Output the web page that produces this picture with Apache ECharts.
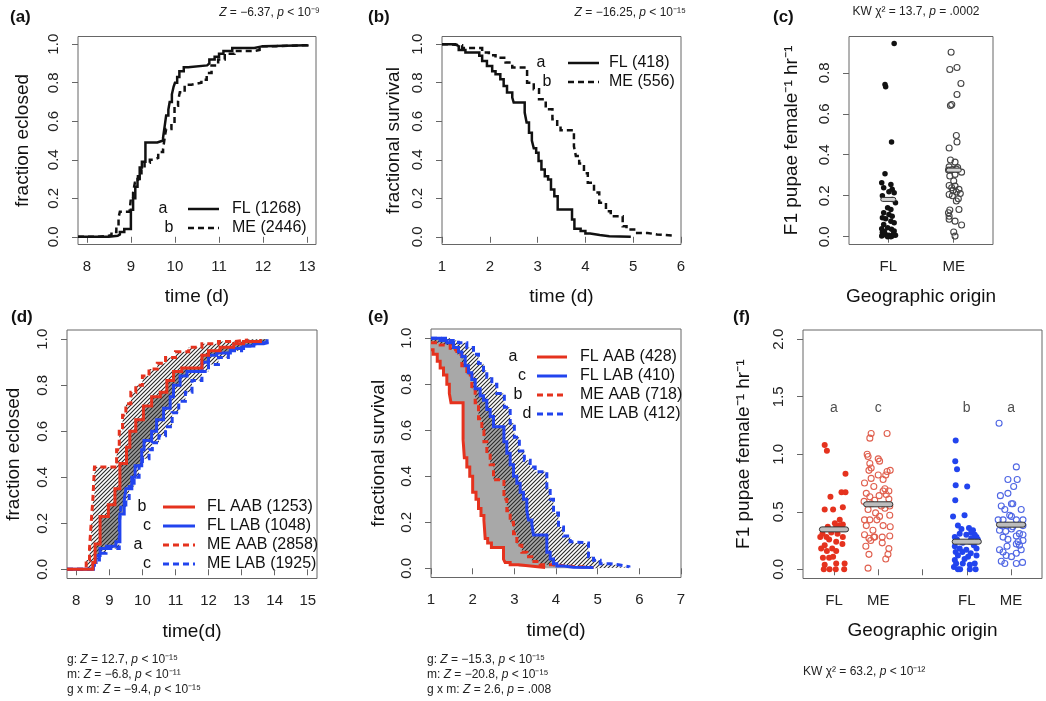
<!DOCTYPE html>
<html><head><meta charset="utf-8">
<script src="https://cdn.jsdelivr.net/npm/echarts@6/dist/echarts.min.js"></script>
<style>html,body{margin:0;padding:0;background:#fff}#c{width:1046px;height:701px}</style>
</head><body><div id="c"></div>
<script>
// ---------------- DATA ----------------
// (a) fraction eclosed vs time (d), step points [time, fraction after time]
const eclosionFL = [[7.8,0],[8.5,0.005],[8.7,0.012],[8.75,0.025],[8.85,0.04],[9.0,0.14],[9.05,0.2],[9.1,0.26],[9.15,0.3],[9.2,0.36],[9.25,0.39],[9.33,0.49],[9.6,0.5],[9.73,0.515],[9.77,0.58],[9.8,0.63],[9.85,0.66],[9.88,0.70],[9.93,0.74],[9.97,0.78],[10.0,0.80],[10.05,0.83],[10.1,0.86],[10.2,0.88],[10.3,0.89],[10.73,0.9],[10.78,0.92],[10.9,0.935],[11.0,0.95],[11.1,0.965],[11.3,0.98],[11.8,0.99],[12.0,0.995],[13.0,1.0]];
const eclosionME = [[7.8,0],[8.25,0.005],[8.48,0.01],[8.56,0.025],[8.67,0.05],[8.72,0.1],[8.75,0.13],[8.97,0.14],[9.0,0.2],[9.05,0.23],[9.09,0.28],[9.16,0.315],[9.24,0.35],[9.31,0.385],[9.43,0.40],[9.5,0.41],[9.62,0.44],[9.73,0.455],[9.77,0.52],[9.8,0.56],[9.92,0.59],[9.99,0.68],[10.07,0.705],[10.11,0.75],[10.22,0.79],[10.37,0.80],[10.6,0.815],[10.72,0.85],[10.83,0.89],[10.98,0.92],[11.13,0.95],[11.35,0.965],[11.81,0.97],[11.92,0.99],[12.3,0.995],[13.0,1.0]];
// (b) fractional survival
const survivalFL = [[1,1],[1.28,0.99],[1.35,0.97],[1.49,0.957],[1.78,0.94],[1.84,0.913],[1.94,0.887],[2.05,0.86],[2.12,0.844],[2.22,0.818],[2.29,0.783],[2.36,0.749],[2.47,0.723],[2.5,0.697],[2.73,0.645],[2.77,0.593],[2.82,0.54],[2.88,0.50],[2.92,0.46],[2.97,0.437],[3.02,0.393],[3.08,0.35],[3.15,0.315],[3.22,0.298],[3.28,0.246],[3.35,0.211],[3.42,0.142],[3.72,0.09],[3.77,0.042],[3.9,0.03],[4.0,0.017],[4.1,0.009],[4.3,0.003],[4.5,0],[4.95,0]];
const survivalME = [[1,1],[1.1,0.995],[1.42,0.98],[1.84,0.957],[1.98,0.943],[2.12,0.93],[2.33,0.905],[2.47,0.879],[2.78,0.80],[2.92,0.766],[3.03,0.714],[3.17,0.662],[3.31,0.61],[3.41,0.575],[3.48,0.553],[3.76,0.47],[3.8,0.42],[3.87,0.38],[3.97,0.33],[4.05,0.28],[4.18,0.23],[4.29,0.177],[4.43,0.133],[4.53,0.107],[4.78,0.055],[4.86,0.038],[5.02,0.02],[5.3,0.012],[5.5,0.006],[5.83,0.003]];
// (c) F1 pupae per female per hour: [jittered group position, value]
const pupaeFL = [[1.09,0.943],[0.95,0.743],[0.96,0.732],[1.05,0.462],[0.95,0.307],[0.90,0.263],[1.04,0.255],[0.93,0.239],[1.06,0.231],[1.01,0.22],[1.09,0.215],[0.91,0.20],[1.06,0.182],[1.11,0.166],[0.99,0.141],[1.04,0.133],[0.93,0.117],[1.01,0.109],[1.06,0.10],[0.91,0.093],[0.96,0.088],[1.04,0.076],[1.09,0.068],[0.93,0.06],[0.90,0.039],[0.99,0.044],[1.05,0.036],[1.09,0.028],[0.91,0.02],[0.96,0.011],[1.01,0.007],[1.06,0.003],[1.11,0.007],[0.90,0.003],[0.93,0.01],[0.99,0.0],[1.04,0.0],[1.08,0.015],[0.94,0.025]];
const pupaeME = [[1.96,0.90],[1.94,0.816],[2.05,0.826],[2.11,0.748],[2.05,0.694],[1.95,0.64],[1.97,0.645],[2.04,0.494],[2.05,0.462],[1.93,0.433],[1.95,0.374],[2.02,0.364],[1.93,0.341],[2.06,0.337],[1.92,0.325],[1.98,0.328],[2.04,0.33],[2.12,0.315],[2.02,0.304],[1.94,0.296],[2.00,0.272],[1.93,0.25],[2.02,0.247],[1.97,0.239],[2.08,0.231],[1.99,0.226],[2.04,0.218],[1.93,0.206],[2.10,0.211],[1.98,0.20],[2.07,0.185],[2.04,0.174],[2.08,0.133],[1.94,0.13],[1.92,0.117],[1.93,0.10],[1.93,0.085],[2.02,0.076],[2.12,0.057],[2.00,0.023],[2.02,0.003]];
const pupaeMeanC = [[1,0.182],[2,0.325]];
const originLabels = ['FL','ME'];
// (d) fraction eclosed by group
const eclFLAAB = [[7.72,0],[8.5,0.03],[8.57,0.11],[8.72,0.23],[8.97,0.28],[9.17,0.35],[9.32,0.46],[9.52,0.53],[9.62,0.60],[9.8,0.65],[10.03,0.71],[10.28,0.75],[10.54,0.77],[10.74,0.82],[10.94,0.86],[11.19,0.875],[11.8,0.93],[12.0,0.95],[12.35,0.965],[12.76,0.98],[13.06,0.99],[13.57,1.0]];
const eclFLLAB = [[7.72,0],[8.52,0.03],[8.6,0.06],[8.72,0.09],[8.92,0.10],[9.2,0.12],[9.32,0.24],[9.45,0.3],[9.5,0.35],[9.68,0.40],[9.78,0.45],[9.98,0.52],[10.05,0.56],[10.28,0.60],[10.43,0.65],[10.64,0.70],[10.84,0.75],[10.94,0.80],[11.14,0.84],[11.35,0.86],[11.8,0.90],[12.0,0.93],[12.25,0.94],[12.66,0.96],[13.06,0.97],[13.37,0.98],[13.67,0.985],[13.77,1.0]];
const eclMEAAB = [[7.72,0],[8.2,0.005],[8.3,0.04],[8.4,0.09],[8.45,0.2],[8.5,0.3],[8.55,0.445],[9.22,0.52],[9.3,0.6],[9.4,0.67],[9.5,0.72],[9.65,0.77],[9.8,0.80],[10.0,0.84],[10.2,0.87],[10.45,0.895],[10.7,0.92],[11.0,0.945],[11.4,0.965],[11.8,0.98],[12.3,0.99],[12.8,0.997],[13.2,1.0]];
const eclMELAB = [[7.72,0],[8.45,0.01],[8.55,0.04],[8.7,0.07],[8.9,0.09],[9.3,0.2],[9.35,0.27],[9.5,0.3],[9.6,0.36],[9.75,0.40],[9.9,0.45],[10.0,0.48],[10.2,0.52],[10.3,0.55],[10.5,0.58],[10.7,0.62],[10.9,0.68],[11.1,0.73],[11.3,0.77],[11.5,0.82],[11.8,0.86],[12.0,0.89],[12.3,0.92],[12.6,0.95],[13.0,0.97],[13.4,0.985],[13.77,1.0]];
// (e) fractional survival by group
const survFLAAB = [[1,0.95],[1.05,0.93],[1.15,0.90],[1.22,0.87],[1.3,0.84],[1.38,0.80],[1.44,0.76],[1.48,0.72],[1.77,0.56],[1.8,0.48],[1.86,0.44],[1.93,0.40],[2.0,0.33],[2.08,0.30],[2.14,0.26],[2.2,0.23],[2.27,0.21],[2.3,0.13],[2.36,0.11],[2.45,0.09],[2.74,0.04],[2.78,0.025],[2.9,0.015],[3.1,0.008],[3.5,0.003],[3.74,0]];
const survFLLAB = [[1,1.0],[1.22,0.99],[1.38,0.98],[1.54,0.96],[1.66,0.94],[1.74,0.92],[1.82,0.88],[1.9,0.85],[1.98,0.82],[2.06,0.78],[2.18,0.75],[2.26,0.73],[2.34,0.69],[2.42,0.66],[2.5,0.615],[2.75,0.55],[2.82,0.5],[2.9,0.45],[2.98,0.4],[3.06,0.37],[3.14,0.33],[3.22,0.3],[3.3,0.25],[3.34,0.21],[3.42,0.19],[3.46,0.145],[3.78,0.07],[3.86,0.04],[3.94,0.02],[4.02,0.01],[4.18,0.005],[4.42,0.003],[4.9,0]];
const survMEAAB = [[1,0.98],[1.22,0.97],[1.46,0.95],[1.62,0.93],[1.74,0.88],[1.86,0.84],[1.98,0.78],[2.06,0.72],[2.14,0.65],[2.22,0.60],[2.27,0.55],[2.34,0.5],[2.42,0.45],[2.5,0.385],[2.75,0.3],[2.82,0.25],[2.9,0.2],[2.98,0.15],[3.06,0.1],[3.18,0.07],[3.3,0.05],[3.42,0.03],[3.62,0.015],[3.94,0.008],[4.42,0.003],[4.9,0]];
const survMELAB = [[1,1.0],[1.46,0.99],[1.66,0.98],[1.86,0.96],[2.02,0.93],[2.14,0.89],[2.26,0.86],[2.34,0.83],[2.46,0.80],[2.58,0.76],[2.76,0.70],[2.9,0.63],[3.0,0.57],[3.12,0.51],[3.24,0.47],[3.38,0.44],[3.5,0.42],[3.78,0.35],[3.86,0.30],[3.94,0.24],[4.06,0.18],[4.18,0.14],[4.34,0.115],[4.42,0.11],[4.78,0.05],[4.9,0.035],[5.06,0.02],[5.3,0.015],[5.5,0.007],[5.75,0.003]];
// (f) F1 pupae per female per hour by group
const pupaeFLAAB = [[0.79,1.08],[0.84,1.03],[1.26,0.83],[1.17,0.67],[1.26,0.67],[0.92,0.63],[0.79,0.52],[0.98,0.52],[1.20,0.54],[1.13,0.43],[1.02,0.40],[1.20,0.39],[0.86,0.37],[1.05,0.37],[1.13,0.38],[0.74,0.31],[0.94,0.32],[1.08,0.31],[0.83,0.28],[0.69,0.28],[1.20,0.28],[0.89,0.26],[1.05,0.24],[0.79,0.21],[1.19,0.22],[0.96,0.18],[0.71,0.18],[0.84,0.16],[1.05,0.16],[0.89,0.10],[0.75,0.10],[0.98,0.11],[1.24,0.05],[1.05,0.05],[0.79,0.04],[0.90,0],[0.77,0],[1.04,0],[1.23,0]];
const pupaeMEAAB = [[1.84,1.18],[1.81,1.14],[2.20,1.18],[1.75,1.00],[1.77,0.98],[2.0,0.96],[2.03,0.94],[1.81,0.92],[1.84,0.88],[1.79,0.86],[2.20,0.85],[2.27,0.86],[2.17,0.82],[2.0,0.82],[1.69,0.75],[1.84,0.79],[2.11,0.78],[1.90,0.72],[2.15,0.70],[2.24,0.68],[2.11,0.68],[1.73,0.66],[1.81,0.63],[2.02,0.64],[2.18,0.65],[1.68,0.59],[1.84,0.57],[1.92,0.60],[2.24,0.61],[2.07,0.55],[2.26,0.55],[1.77,0.52],[1.94,0.49],[1.69,0.43],[2.03,0.46],[2.15,0.53],[2.26,0.47],[1.81,0.43],[1.97,0.43],[1.73,0.38],[2.11,0.38],[1.88,0.34],[2.27,0.37],[1.69,0.30],[2.09,0.28],[1.92,0.28],[2.26,0.29],[1.79,0.27],[1.90,0.28],[1.72,0.20],[2.09,0.23],[2.24,0.18],[1.83,0.25],[1.79,0.13],[2.22,0.13],[2.17,0.09],[1.77,0.01]];
const pupaeFLLAB = [[3.75,1.12],[3.74,0.94],[3.78,0.87],[3.75,0.73],[4.01,0.72],[3.74,0.60],[3.69,0.46],[3.95,0.47],[3.80,0.38],[4.05,0.36],[4.14,0.34],[3.88,0.35],[3.84,0.31],[4.10,0.32],[4.18,0.30],[3.73,0.28],[3.99,0.30],[4.22,0.28],[3.78,0.26],[4.10,0.27],[4.25,0.26],[3.91,0.23],[4.07,0.24],[3.73,0.20],[4.16,0.21],[3.84,0.18],[3.99,0.17],[4.22,0.18],[3.75,0.15],[3.90,0.15],[4.09,0.14],[3.80,0.12],[4.03,0.11],[4.22,0.12],[3.73,0.08],[3.95,0.09],[4.18,0.05],[3.76,0.05],[3.91,0.05],[4.07,0.04],[3.71,0.02],[3.80,0],[3.85,0],[4.07,0],[4.20,0]];
const pupaeMELAB = [[4.73,1.27],[5.12,0.89],[4.93,0.78],[5.14,0.78],[5.06,0.72],[4.76,0.64],[4.93,0.66],[5.01,0.57],[5.04,0.57],[4.78,0.55],[4.86,0.52],[5.23,0.52],[4.97,0.47],[5.01,0.46],[4.71,0.43],[4.82,0.43],[5.12,0.43],[5.27,0.43],[4.78,0.38],[4.91,0.38],[5.04,0.37],[5.27,0.38],[4.74,0.34],[4.88,0.33],[5.01,0.35],[5.19,0.31],[4.82,0.28],[5.12,0.29],[5.27,0.30],[4.93,0.26],[5.16,0.24],[5.27,0.25],[4.74,0.17],[4.91,0.20],[5.12,0.22],[5.19,0.21],[4.82,0.15],[4.89,0.12],[5.01,0.11],[5.12,0.14],[5.23,0.17],[4.78,0.07],[4.86,0.05],[5.12,0.05],[5.26,0.06]];
const pupaeMeanF = [[1,0.347],[2,0.565],[4,0.24],[5,0.388]];
const originLabelsF = ['FL','ME','','FL','ME'];
const sigLettersF = [[1,1.4],[2,1.4],[4,1.4],[5,1.4]];
const sigLetterText = ['a','c','b','a'];
// tick values
const ticksA = [8,9,10,11,12,13];
const ticksB = [1,2,3,4,5,6];
const ticksD = [8,9,10,11,12,13,14,15];
const ticksE = [1,2,3,4,5,6,7];
const ticksFrac = [0,0.2,0.4,0.6,0.8,1.0];
const ticksC = [0,0.2,0.4,0.6,0.8];
const ticksF = [0,0.5,1.0,1.5,2.0];

// ---------------- RENDER ----------------
const FONT = "'Liberation Sans', Arial, Helvetica, sans-serif";
const RED = '#e5321e', BLUE = '#2244ee', REDO = '#e0604f', BLUEO = '#4f66e4';
const AX = '#666';

function stepPath(pts){const o=[];pts.forEach((p,i)=>{if(i>0)o.push([p[0],pts[i-1][1]]);o.push([p[0],p[1]]);});return o;}

const hatch = document.createElement('canvas');
hatch.width = 4; hatch.height = 4;
(function(){const g=hatch.getContext('2d');g.strokeStyle='#2a2a2a';g.lineWidth=1.1;g.beginPath();
 g.moveTo(0,4);g.lineTo(4,0);g.moveTo(-1,1);g.lineTo(1,-1);g.moveTo(3,5);g.lineTo(5,3);g.stroke();})();

function lineS(i, pts, color, dashed, width){
  return {type:'line', xAxisIndex:i, yAxisIndex:i, data:stepPath(pts), symbol:'none', showSymbol:false, silent:true,
    lineStyle:{color, width, type: dashed ? [6,4] : 'solid', cap:'butt', join:'miter'}, z:6};
}
function bandS(i, upper, lower, fill, z){
  return {type:'custom', xAxisIndex:i, yAxisIndex:i, silent:true, z, data:[upper[0]],
    renderItem(params, api){
      const a = stepPath(upper).map(p=>api.coord(p));
      const b = stepPath(lower).map(p=>api.coord(p)).reverse();
      return {type:'polygon', shape:{points:a.concat(b)}, style:{fill, stroke:null, lineWidth:0}};
    }};
}
function scatterS(i, pts, filled, color, size){
  return {type:'scatter', xAxisIndex:i, yAxisIndex:i, data:pts, symbol:'circle', symbolSize:size, silent:true, z:4,
    itemStyle: filled ? {color, opacity:1} : {color:'rgba(255,255,255,0)', borderColor:color, borderWidth:1.1, opacity:1}};
}
function meanS(i, pts, hw, fill, h){
  return {type:'custom', xAxisIndex:i, yAxisIndex:i, silent:true, z:7, data:pts,
    renderItem(params, api){
      const x = api.value(0), y = api.value(1);
      const p1 = api.coord([x-hw, y]), p2 = api.coord([x+hw, y]);
      return {type:'rect', shape:{x:p1[0], y:p1[1]-h/2, width:p2[0]-p1[0], height:h, r:h/2},
        style:{fill, stroke:'#333', lineWidth:1}};
    }};
}
function xAx(i, min, max, ticks, fmt, name, gap){
  return {type:'value', gridIndex:i, min, max, splitLine:{show:false}, axisLine:{show:false},
    axisTick:{show:true, customValues:ticks, length:6, lineStyle:{color:AX, width:1}},
    axisLabel:{customValues:ticks, formatter:fmt, margin:15, fontSize:15, color:'#222', fontFamily:FONT},
    name, nameLocation:'middle', nameGap:gap, nameTextStyle:{fontSize:19, color:'#111', fontFamily:FONT}};
}
function yAx(i, min, max, ticks, name, gap){
  return {type:'value', gridIndex:i, min, max, splitLine:{show:false}, axisLine:{show:false},
    axisTick:{show:true, customValues:ticks, length:6, lineStyle:{color:AX, width:1}},
    axisLabel:{customValues:ticks, formatter:v=>v.toFixed(1), rotate:90, margin:17, fontSize:15, color:'#222', fontFamily:FONT},
    name, nameLocation:'middle', nameGap:gap, nameRotate:90, nameTextStyle:{fontSize:19, color:'#111', fontFamily:FONT}};
}
const num = v => String(Math.round(v));
const grid = (left, top, width, height) => ({left, top, width, height, show:true, borderColor:AX, borderWidth:1, backgroundColor:'transparent', containLabel:false});

function txt(x, y, text, size, align, opts){
  return Object.assign({type:'text', x, y, silent:true, style:Object.assign({text, fontSize:size, fontFamily:FONT, fill:'#111',
    align:align, textAlign:align, verticalAlign:'middle', textVerticalAlign:'middle'}, opts||{})});
}
function statTxt(x, y, text, align){
  const base = {fontSize:12, fontFamily:FONT, fill:'#222'};
  return {type:'text', x, y, silent:true, style:Object.assign({text, align, textAlign:align, verticalAlign:'middle', textVerticalAlign:'middle',
    rich:{i:Object.assign({fontStyle:'italic'}, base), n:base}}, base)};
}
function legLine(x1, x2, y, color, dashed, w){
  return {type:'line', silent:true, shape:{x1, y1:y, x2, y2:y}, style:{stroke:color, lineWidth:w, lineDash: dashed ? [6,4] : null}};
}

const option = {
  animation:false,
  backgroundColor:'#fff',
  textStyle:{fontFamily:FONT},
  grid:[
    grid(78, 36.5, 238, 208),
    grid(442, 36.5, 239, 208),
    grid(849, 36.5, 144, 208),
    grid(67, 330, 250, 248.5),
    grid(431, 329, 250, 248.5),
    grid(803, 330, 239, 248.5)
  ],
  xAxis:[
    xAx(0, 7.8, 13.2, ticksA, num, 'time (d)', 43),
    xAx(1, 1, 6, ticksB, num, 'time (d)', 43),
    xAx(2, 0.4, 2.6, [1,2], v=>originLabels[Math.round(v)-1], 'Geographic origin', 43),
    xAx(3, 7.72, 15.28, ticksD, num, 'time(d)', 44),
    xAx(4, 1, 7, ticksE, num, 'time(d)', 44),
    xAx(5, 0.3, 5.7, [1,2,3,4,5], v=>originLabelsF[Math.round(v)-1], 'Geographic origin', 43)
  ],
  yAxis:[
    yAx(0, -0.04, 1.04, ticksFrac, 'fraction eclosed', 46),
    yAx(1, -0.04, 1.04, ticksFrac, 'fractional survival', 39),
    yAx(2, -0.038, 0.977, ticksC, 'F1 pupae female⁻¹ hr⁻¹', 48),
    yAx(3, -0.04, 1.04, ticksFrac, 'fraction eclosed', 44),
    yAx(4, -0.04, 1.04, ticksFrac, 'fractional survival', 43),
    yAx(5, -0.08, 2.08, ticksF, 'F1 pupae female⁻¹ hr⁻¹', 50)
  ],
  series:[
    lineS(0, eclosionME, '#111', true, 2.5),
    lineS(0, eclosionFL, '#111', false, 2.5),
    lineS(1, survivalME, '#111', true, 2.5),
    lineS(1, survivalFL, '#111', false, 2.5),
    scatterS(2, pupaeFL, true, '#111', 5.5),
    scatterS(2, pupaeME, false, '#444', 6),
    meanS(2, pupaeMeanC, 0.115, '#d4d4d4', 4),
    bandS(3, eclFLAAB, eclFLLAB, '#9a9a9a', 1),
    bandS(3, eclMEAAB, eclMELAB, {image:hatch, repeat:'repeat'}, 2),
    lineS(3, eclMELAB, BLUE, true, 3),
    lineS(3, eclMEAAB, RED, true, 3),
    lineS(3, eclFLLAB, BLUE, false, 3),
    lineS(3, eclFLAAB, RED, false, 3),
    bandS(4, survFLAAB, survFLLAB, '#a8a8a8', 1),
    bandS(4, survMELAB, survMEAAB, {image:hatch, repeat:'repeat'}, 2),
    lineS(4, survMELAB, BLUE, true, 3),
    lineS(4, survMEAAB, RED, true, 3),
    lineS(4, survFLLAB, BLUE, false, 3),
    lineS(4, survFLAAB, RED, false, 3),
    scatterS(5, pupaeFLAAB, true, RED, 6),
    scatterS(5, pupaeMEAAB, false, REDO, 6),
    scatterS(5, pupaeFLLAB, true, BLUE, 6),
    scatterS(5, pupaeMELAB, false, BLUEO, 6),
    meanS(5, pupaeMeanF, 0.33, '#bdbdbd', 5),
    {type:'scatter', xAxisIndex:5, yAxisIndex:5, data:sigLettersF, symbolSize:0, silent:true,
      label:{show:true, position:'inside', formatter:p=>sigLetterText[p.dataIndex], fontSize:14, color:'#222', fontFamily:FONT}}
  ],
  graphic:[
    // panel titles
    txt(10, 17, '(a)', 17, 'left', {fontWeight:'bold'}),
    txt(368, 17, '(b)', 17, 'left', {fontWeight:'bold'}),
    txt(773, 17, '(c)', 17, 'left', {fontWeight:'bold'}),
    txt(11, 317, '(d)', 17, 'left', {fontWeight:'bold'}),
    txt(368, 317, '(e)', 17, 'left', {fontWeight:'bold'}),
    txt(733, 317, '(f)', 17, 'left', {fontWeight:'bold'}),
    // statistics
    statTxt(320, 13, '{i|Z} = −6.37, {i|p} < 10⁻⁹', 'right'),
    statTxt(686, 13, '{i|Z} = −16.25, {i|p} < 10⁻¹⁵', 'right'),
    statTxt(916, 12, 'KW χ² = 13.7, {i|p} = .0002', 'center'),
    statTxt(67, 660, 'g: {i|Z} = 12.7, {i|p} < 10⁻¹⁵', 'left'),
    statTxt(67, 675, 'm: {i|Z} = −6.8, {i|p} < 10⁻¹¹', 'left'),
    statTxt(67, 690, 'g x m: {i|Z} = −9.4, {i|p} < 10⁻¹⁵', 'left'),
    statTxt(427, 660, 'g: {i|Z} = −15.3, {i|p} < 10⁻¹⁵', 'left'),
    statTxt(427, 675, 'm: {i|Z} = −20.8, {i|p} < 10⁻¹⁵', 'left'),
    statTxt(427, 690, 'g x m: {i|Z} = 2.6, {i|p} = .008', 'left'),
    statTxt(803, 672, 'KW χ² = 63.2, {i|p} < 10⁻¹²', 'left'),
    // legend (a)
    txt(163, 209, 'a', 16, 'center'), legLine(188, 219, 209, '#111', false, 2.5), txt(232, 209, 'FL (1268)', 16, 'left'),
    txt(169, 228, 'b', 16, 'center'), legLine(188, 219, 228, '#111', true, 2.5), txt(232, 228, 'ME (2446)', 16, 'left'),
    // legend (b)
    txt(541, 63, 'a', 16, 'center'), legLine(568, 599, 63, '#111', false, 2.5), txt(609, 63, 'FL (418)', 16, 'left'),
    txt(547, 82, 'b', 16, 'center'), legLine(568, 599, 82, '#111', true, 2.5), txt(609, 82, 'ME (556)', 16, 'left'),
    // legend (d)
    txt(142, 507, 'b', 16, 'center'), legLine(163, 195, 507, RED, false, 3), txt(207, 507, 'FL AAB (1253)', 16, 'left'),
    txt(147, 526, 'c', 16, 'center'), legLine(163, 195, 526, BLUE, false, 3), txt(207, 526, 'FL LAB (1048)', 16, 'left'),
    txt(138, 545, 'a', 16, 'center'), legLine(163, 195, 545, RED, true, 3), txt(207, 545, 'ME AAB (2858)', 16, 'left'),
    txt(147, 564, 'c', 16, 'center'), legLine(163, 195, 564, BLUE, true, 3), txt(207, 564, 'ME LAB (1925)', 16, 'left'),
    // legend (e)
    txt(513, 357, 'a', 16, 'center'), legLine(537, 567, 357, RED, false, 3), txt(580, 357, 'FL AAB (428)', 16, 'left'),
    txt(522, 376, 'c', 16, 'center'), legLine(537, 567, 376, BLUE, false, 3), txt(580, 376, 'FL LAB (410)', 16, 'left'),
    txt(518, 395, 'b', 16, 'center'), legLine(537, 567, 395, RED, true, 3), txt(580, 395, 'ME AAB (718)', 16, 'left'),
    txt(527, 414, 'd', 16, 'center'), legLine(537, 567, 414, BLUE, true, 3), txt(580, 414, 'ME LAB (412)', 16, 'left')
  ]
};
const chart = echarts.init(document.getElementById('c'));
chart.setOption(option);
</script></body></html>
